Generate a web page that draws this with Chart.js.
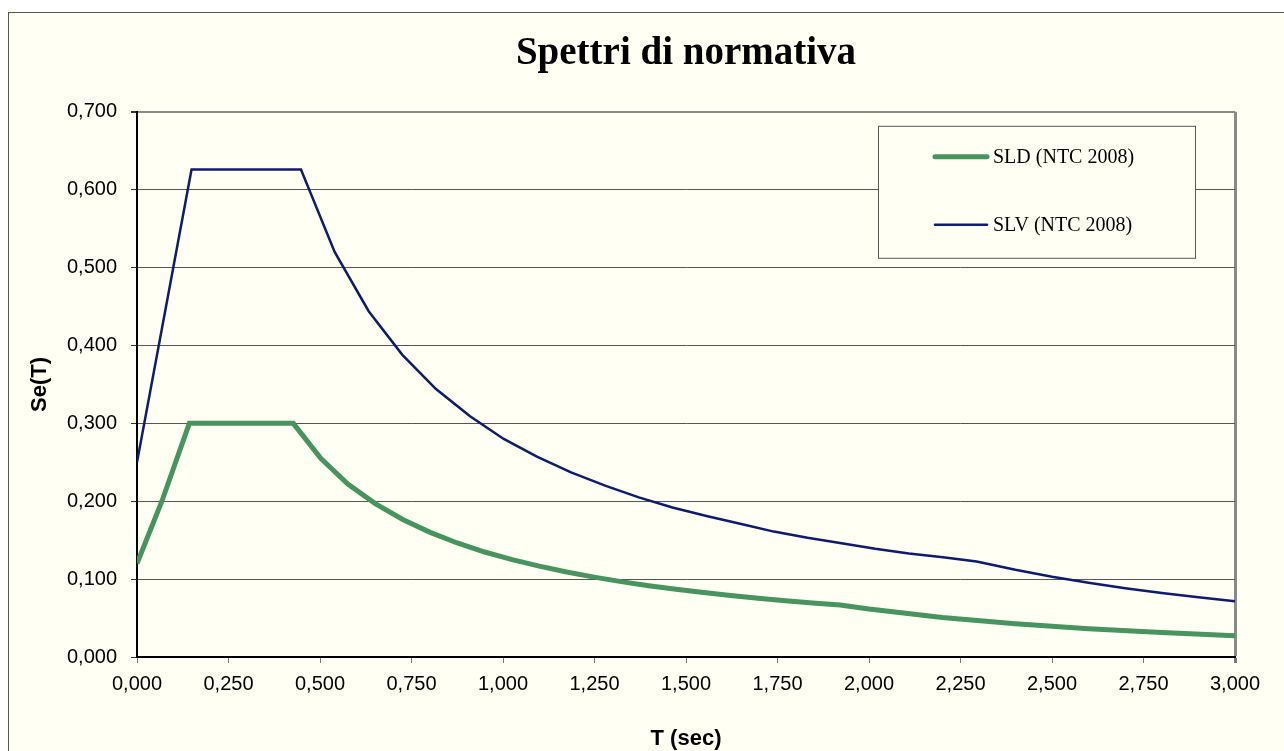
<!DOCTYPE html>
<html>
<head>
<meta charset="utf-8">
<script src="https://cdn.jsdelivr.net/npm/chart.js@4/dist/chart.umd.min.js"></script>
<style>
  html, body { margin: 0; padding: 0; background: #fff; overflow: hidden; }
  .frame {
    position: absolute; left: 8px; top: 12px; width: 1340px; height: 760px;
    background: #fffff3; border-left: 1px solid #555; border-top: 1px solid #555;
  }
  .chart-box { position: absolute; left: 0; top: 0; width: 1336px; height: 750px; }
</style>
</head>
<body>
<div class="frame">
  <div class="chart-box"><canvas id="spettriChart"></canvas></div>
</div>
<script>
// valori
const sldT  = [0, 0.068, 0.143, 0.427, 0.502, 0.576, 0.651, 0.726, 0.801, 0.875, 0.950, 1.025, 1.099, 1.174, 1.249, 1.323, 1.398, 1.473, 1.548, 1.622, 1.697, 1.772, 1.846, 1.921, 2.000, 2.200, 2.400, 2.600, 2.800, 3.000];
const sldSe = [0.120, 0.200, 0.300, 0.300, 0.255, 0.222, 0.197, 0.1765, 0.160, 0.1464, 0.1348, 0.125, 0.1166, 0.1091, 0.1026, 0.0968, 0.0916, 0.0870, 0.0828, 0.0790, 0.0755, 0.0723, 0.0694, 0.0667, 0.0615, 0.0508, 0.0427, 0.0364, 0.0314, 0.0273];

const slvT  = [0, 0.075, 0.149, 0.448, 0.540, 0.633, 0.725, 0.817, 0.910, 1.002, 1.094, 1.186, 1.279, 1.371, 1.463, 1.556, 1.648, 1.740, 1.832, 1.925, 2.017, 2.109, 2.202, 2.294, 2.400, 2.500, 2.600, 2.700, 2.800, 2.900, 3.000];
const slvSe = [0.250, 0.439, 0.626, 0.626, 0.520, 0.444, 0.388, 0.344, 0.309, 0.280, 0.257, 0.237, 0.220, 0.205, 0.192, 0.181, 0.171, 0.161, 0.153, 0.146, 0.139, 0.133, 0.128, 0.1225, 0.1119, 0.1031, 0.0954, 0.0884, 0.0822, 0.0766, 0.0716];

const seriesNames = ['SLD (NTC 2008)', 'SLV (NTC 2008)'];
const xMin = 0, xMax = 3, xStep = 0.25;
const yMin = 0, yMax = 0.7, yStep = 0.1;

const toPoints = (xs, ys) => xs.map((x, i) => ({ x: x, y: ys[i] }));
const fmt = (v) => v.toFixed(3).replace('.', ',');

// legenda dentro l'area del grafico, con riquadro
const boxLegend = {
  id: 'boxLegend',
  afterDraw(chart) {
    const ctx = chart.ctx, area = chart.chartArea;
    const left = area.right - 357, top = area.top + 14, w = 317, h = 132;
    ctx.save();
    ctx.fillStyle = '#fffff3';
    ctx.fillRect(left, top, w, h);
    ctx.strokeStyle = '#555';
    ctx.lineWidth = 1;
    ctx.strokeRect(left + 0.5, top + 0.5, w, h);
    const rows = [top + 31, top + 99];
    chart.data.datasets.forEach((ds, i) => {
      ctx.beginPath();
      ctx.strokeStyle = ds.borderColor;
      ctx.lineWidth = ds.borderWidth;
      ctx.lineCap = 'round';
      ctx.moveTo(left + 57, rows[i]);
      ctx.lineTo(left + 109, rows[i]);
      ctx.stroke();
      ctx.fillStyle = '#000';
      ctx.font = '20px "Liberation Serif", "Times New Roman", serif';
      ctx.textBaseline = 'middle';
      ctx.fillText(ds.label, left + 115, rows[i] + 1);
    });
    ctx.restore();
  }
};

const ctx = document.getElementById('spettriChart').getContext('2d');
const chart = new Chart(ctx, {
  type: 'scatter',
  data: {
    datasets: [{
      label: seriesNames[0],
      data: toPoints(sldT, sldSe),
      showLine: true,
      borderColor: '#47945f',
      borderWidth: 5,
      pointRadius: 0,
      tension: 0
    }, {
      label: seriesNames[1],
      data: toPoints(slvT, slvSe),
      showLine: true,
      borderColor: '#0d1b70',
      borderWidth: 2.5,
      pointRadius: 0,
      tension: 0
    }]
  },
  options: {
    responsive: true,
    maintainAspectRatio: false,
    animation: false,
    layout: { padding: { left: 18, right: 110, top: 0, bottom: 11 } },
    plugins: {
      legend: { display: false },
      tooltip: { enabled: false },
      title: {
        display: true,
        fullSize: false,
        text: 'Spettri di normativa',
        color: '#000',
        font: { family: '"Liberation Serif", "Times New Roman", serif', size: 39, weight: 'bold' },
        padding: { top: 18, bottom: 34 }
      }
    },
    scales: {
      x: {
        type: 'linear',
        min: xMin, max: xMax,
        afterFit: (scale) => { scale.height = 95; },
        ticks: {
          stepSize: xStep,
          color: '#000',
          padding: 9,
          maxRotation: 0,
          font: { family: '"Liberation Sans", Arial, sans-serif', size: 20 },
          callback: (v) => fmt(v)
        },
        grid: {
          color: (c) => (c.tick && c.tick.value === xMax ? '#8a8a8a' : 'rgba(0,0,0,0)'),
          lineWidth: (c) => (c.tick && c.tick.value === xMax ? 3 : 1),
          tickColor: '#777',
          tickLength: 6
        },
        border: { color: '#000', width: 2 },
        title: {
          display: true,
          text: 'T (sec)',
          color: '#000',
          padding: 0,
          font: { family: '"Liberation Sans", Arial, sans-serif', size: 22, weight: 'bold' }
        }
      },
      y: {
        min: yMin, max: yMax,
        afterFit: (scale) => { scale.width = 110; },
        ticks: {
          stepSize: yStep,
          color: '#000',
          padding: 14,
          font: { family: '"Liberation Sans", Arial, sans-serif', size: 20 },
          callback: (v) => fmt(v)
        },
        grid: {
          color: (c) => (c.tick && Math.abs(c.tick.value - yMax) < 1e-9 ? '#8a8a8a' : '#555'),
          lineWidth: (c) => (c.tick && Math.abs(c.tick.value - yMax) < 1e-9 ? 2 : 1),
          tickColor: '#333',
          tickLength: 6
        },
        border: { color: '#000', width: 2 },
        title: {
          display: true,
          text: 'Se(T)',
          color: '#000',
          padding: 0,
          font: { family: '"Liberation Sans", Arial, sans-serif', size: 22, weight: 'bold' }
        }
      }
    }
  },
  plugins: [boxLegend]
});
</script>
</body>
</html>
